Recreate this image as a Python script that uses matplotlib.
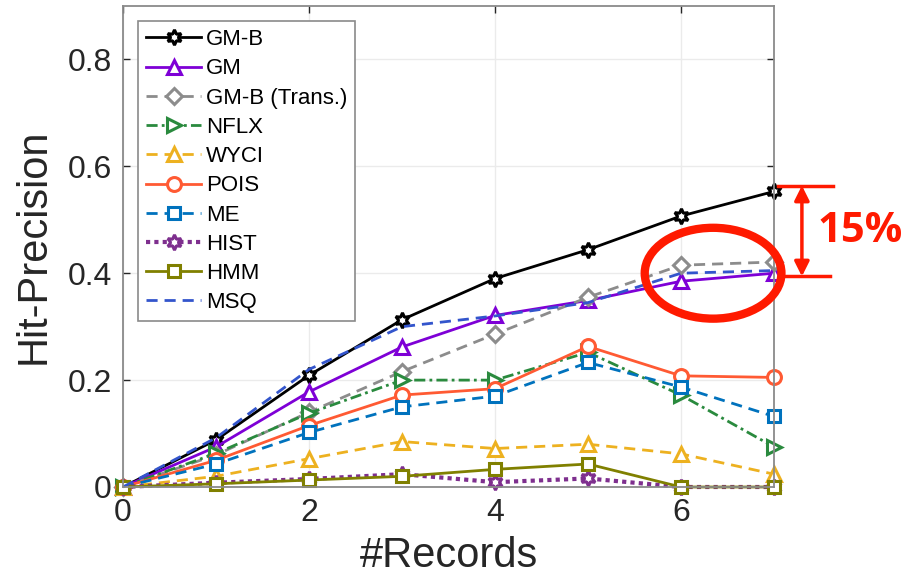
import numpy as np
import matplotlib
matplotlib.use("Agg")
from matplotlib import pyplot as plt
from matplotlib.patches import Ellipse

plt.rcParams['font.family'] = ['Liberation Sans', 'DejaVu Sans']

records = [0, 1, 2, 3, 4, 5, 6, 7]

gm_b = [0, 0.088, 0.209, 0.313, 0.390, 0.444, 0.507, 0.553]
gm = [0, 0.075, 0.178, 0.262, 0.321, 0.349, 0.385, 0.400]
gm_b_trans = [0, 0.060, 0.140, 0.216, 0.286, 0.355, 0.415, 0.421]
nflx = [0, 0.063, 0.138, 0.200, 0.200, 0.252, 0.172, 0.075]
wyci = [0, 0.020, 0.053, 0.085, 0.072, 0.080, 0.062, 0.024]
pois = [0, 0.050, 0.115, 0.172, 0.184, 0.263, 0.208, 0.205]
me = [0, 0.043, 0.102, 0.150, 0.170, 0.233, 0.187, 0.132]
hist = [0, 0.008, 0.015, 0.024, 0.009, 0.016, 0, 0]
hmm = [0, 0.006, 0.013, 0.020, 0.033, 0.043, 0, 0]
msq = [0, 0.092, 0.220, 0.300, 0.320, 0.345, 0.400, 0.405]

star6 = (6, 1, 0)

# label, values, colour, line style, marker, marker size, line width
series = [
    ("GM-B", gm_b, "#000000", "-", star6, 11, 2.0),
    ("GM", gm, "#7E00D6", "-", "^", 10, 2.0),
    ("GM-B (Trans.)", gm_b_trans, "#8C8C8C", (0, (4, 2.5)), "D", 8, 2.0),
    ("NFLX", nflx, "#2A8A3E", (0, (4, 1.5, 1, 1.5)), ">", 10, 2.0),
    ("WYCI", wyci, "#EDB120", (0, (4, 2.5)), "^", 10, 2.0),
    ("POIS", pois, "#FF5A33", "-", "o", 10, 2.0),
    ("ME", me, "#0072BD", (0, (4, 2.5)), "s", 9, 2.0),
    ("HIST", hist, "#7E2F8E", (0, (1, 1)), star6, 11, 3.0),
    ("HMM", hmm, "#808000", "-", "s", 9, 2.0),
    ("MSQ", msq, "#3355CC", (0, (4, 2.5)), None, 0, 2.0),
]

fig = plt.figure(figsize=(9.07, 5.86), dpi=100)
ax = fig.add_axes([123 / 907, 99 / 586, 651 / 907, 481 / 586])

for label, vals, col, ls, mk, ms, lw in series:
    ax.plot(records, vals, color=col, linestyle=ls, linewidth=lw,
            marker=mk, markersize=ms, markerfacecolor="white",
            markeredgecolor=col, markeredgewidth=2.2, label=label,
            clip_on=False)

ax.set_xlim(0, 7)
ax.set_ylim(0, 0.9)
ax.set_xticks([0, 2, 4, 6])
ax.set_yticks([0, 0.2, 0.4, 0.6, 0.8])
ax.set_yticklabels(["0", "0.2", "0.4", "0.6", "0.8"])
ax.grid(True, color="#EBEBEB", linewidth=1)
ax.set_axisbelow(True)
for sp in ax.spines.values():
    sp.set_color("#8A8A8A")
    sp.set_linewidth(1.3)
ax.tick_params(direction="in", length=5, width=1, colors="#262626",
               labelsize=23, top=True, right=True, pad=8)
ax.set_xlabel("#Records", fontsize=30, color="#262626", labelpad=6)
ax.set_ylabel("Hit-Precision", fontsize=30, color="#262626", labelpad=10)

leg = ax.legend(loc="upper left", bbox_to_anchor=(0.023, 0.968), fontsize=16,
                handlelength=2.5, handletextpad=0.2, labelspacing=0.37,
                borderpad=0.35, borderaxespad=0, fancybox=False,
                framealpha=1)
leg.get_frame().set_edgecolor("#8A8A8A")
leg.get_frame().set_linewidth(1.2)

# gap between GM-B and GM at the last point
red = "#FF1A00"
top, bot = gm_b[-1] + 0.011, gm[-1] - 0.006
ax.plot([7.04, 7.63], [top, top], color=red, lw=2.5, clip_on=False)
ax.plot([7.09, 7.60], [bot, bot], color=red, lw=2.5, clip_on=False)
ax.annotate("", xy=(7.30, top), xytext=(7.30, bot),
            arrowprops=dict(arrowstyle="<|-|>", color=red, lw=2.5,
                            mutation_scale=22, shrinkA=0, shrinkB=0),
            annotation_clip=False)
ax.text(7.47, (top + bot) / 2, "15%", color=red, fontsize=30,
        fontweight="bold", ha="left", va="center", family="Open Sans")
ax.add_patch(Ellipse((6.345, 0.40), 1.47, 0.17, fill=False, edgecolor=red,
                     linewidth=6, clip_on=False, zorder=5))

fig.savefig("out.png", dpi=100)
